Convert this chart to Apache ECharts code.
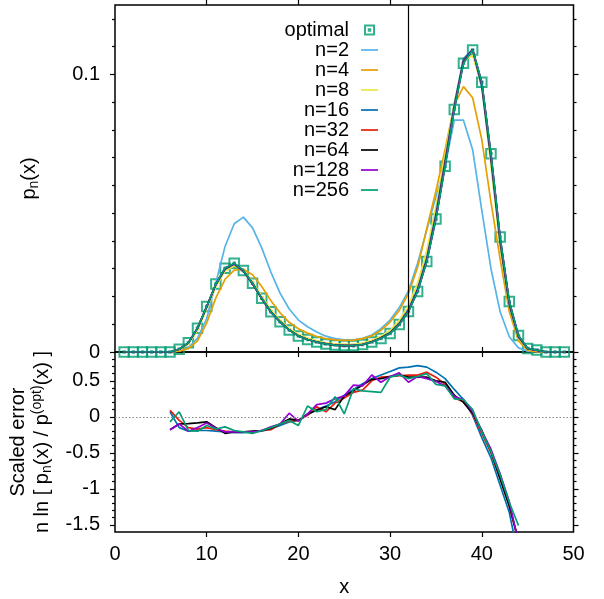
<!DOCTYPE html>
<html>
<head>
<meta charset="utf-8">
<script src="https://cdn.jsdelivr.net/npm/echarts@6/dist/echarts.min.js"></script>
<style>html,body{margin:0;padding:0;background:#fff}#c{width:604px;height:599px}</style>
</head>
<body>
<div id="c"></div>
<script>
// x positions of the top panel
var xTop = [1,2,3,4,5,6,7,8,9,10,11,12,13,14,15,16,17,18,19,20,21,22,23,24,25,26,27,28,29,30,31,32,33,34,35,36,37,38,39,40,41,42,43,44,45,46,47,48,49];
// x positions of the error panel
var xErr = [6,7,8,9,10,11,12,13,14,15,16,17,18,19,20,21,22,23,24,25,26,27,28,29,30,31,32,33,34,35,36,37,38,39,40,41,42,43,44];

var pOptimal = [0,0,0,0,0,0, 0.001,0.0033,0.0086,0.0164, 0.0245,0.0302,0.032,0.0294,0.0248, 0.0194,0.0145,0.0109,0.0079,0.0058, 0.0045,0.0036,0.0029,0.0025,0.0023, 0.0023,0.0027,0.0036,0.0049,0.0067, 0.0099,0.0146,0.0218,0.0326,0.0479, 0.0669,0.0874,0.104,0.1088,0.0972, 0.0714,0.0414,0.0182,0.0059,0.0013, 0.0007,0,0,0];
var pN2 = [0,0,0,0,0,0, 0.0003,0.0015,0.005,0.012, 0.025,0.038,0.0462,0.0486,0.0447, 0.0375,0.0288,0.0212,0.0155,0.0115, 0.0091,0.0072,0.0057,0.0048,0.0044, 0.0044,0.0049,0.0061,0.0084,0.0115, 0.016,0.022,0.032,0.044,0.056, 0.067,0.0835,0.0835,0.0729,0.051, 0.030,0.0145,0.0055,0.0015,0.0003, 0,0,0,0];
var pN4 = [0,0,0,0,0,0, 0.0003,0.0012,0.004,0.0105, 0.0195,0.0262,0.0295,0.0298,0.0278, 0.0236,0.0185,0.0141,0.0107,0.0084, 0.0068,0.0056,0.0048,0.0044,0.0042, 0.0043,0.0048,0.0058,0.0078,0.0108, 0.015,0.021,0.0305,0.0445,0.058, 0.073,0.089,0.0956,0.0916,0.0765, 0.054,0.0335,0.0145,0.004,0.0006, 0,0,0,0];
var pN8 = [0,0,0,0,0,0, 0.0008,0.0028,0.0078,0.0155, 0.0235,0.0292,0.031,0.0296,0.0253, 0.0201,0.0152,0.0115,0.0085,0.0064, 0.005,0.004,0.0033,0.0029,0.0028, 0.0028,0.0032,0.0042,0.0057,0.0078, 0.0114,0.0168,0.0248,0.0365,0.0525, 0.071,0.0895,0.1048,0.1068,0.0958, 0.067,0.038,0.0165,0.005,0.001, 0.0005,0,0,0];
var pN16 = [0,0,0,0,0,0, 0.001,0.0033,0.0085,0.0162, 0.0243,0.0298,0.0316,0.029,0.0245, 0.0192,0.0143,0.0108,0.0079,0.0058, 0.0045,0.0036,0.0029,0.0025,0.0023, 0.0024,0.0028,0.0037,0.0051,0.007, 0.0104,0.0153,0.0228,0.034,0.0498, 0.0691,0.0891,0.1056,0.109,0.0953, 0.069,0.0391,0.0167,0.0053,0.0011, 0.0006,0,0,0];
var pN32 = [0,0,0,0,0,0, 0.001,0.0033,0.0086,0.0163, 0.0244,0.03,0.0318,0.0292,0.0246, 0.0193,0.0144,0.0109,0.0079,0.0058, 0.0045,0.0036,0.0029,0.0025,0.0023, 0.0023,0.0027,0.0037,0.005,0.0068, 0.0101,0.0149,0.0222,0.0332,0.0487, 0.0679,0.0881,0.1047,0.1089,0.0965, 0.0703,0.0404,0.0176,0.0057,0.0012, 0.0006,0,0,0];
var pN64 = [0,0,0,0,0,0, 0.001,0.0033,0.0086,0.0164, 0.0244,0.0301,0.0319,0.0293,0.0247, 0.0193,0.0145,0.0109,0.0079,0.0058, 0.0045,0.0036,0.0029,0.0025,0.0023, 0.0023,0.0027,0.0036,0.005,0.0068, 0.01,0.0147,0.022,0.0329,0.0483, 0.0674,0.0876,0.1044,0.1089,0.0969, 0.0709,0.0409,0.0179,0.0058,0.0013, 0.0007,0,0,0];
var pN128 = [0,0,0,0,0,0, 0.001,0.0033,0.0086,0.0164, 0.0245,0.0302,0.0319,0.0294,0.0248, 0.0194,0.0145,0.0109,0.0079,0.0058, 0.0045,0.0036,0.0029,0.0025,0.0023, 0.0023,0.0027,0.0036,0.0049,0.0067, 0.0099,0.0146,0.0219,0.0327,0.0481, 0.0671,0.0876,0.1042,0.1089,0.0971, 0.0712,0.0412,0.0181,0.0059,0.0013, 0.0007,0,0,0];
var pN256 = [0,0,0,0,0,0, 0.001,0.0033,0.0086,0.0164, 0.0245,0.0302,0.032,0.0294,0.0248, 0.0194,0.0145,0.0109,0.0079,0.0058, 0.0045,0.0036,0.0029,0.0025,0.0023, 0.0023,0.0027,0.0036,0.0049,0.0067, 0.0099,0.0146,0.0218,0.0326,0.0479, 0.0669,0.0874,0.104,0.1088,0.0972, 0.0714,0.0414,0.0182,0.0059,0.0013, 0.0007,0,0,0];

var eN16 = [0.07,-0.15,-0.2,-0.19,-0.19,-0.2,-0.21,-0.22,-0.22,-0.21,-0.2,-0.17,-0.12,-0.07,-0.05,0.03,0.1,0.15,0.21,0.3,0.38,0.46,0.53,0.58,0.63,0.68,0.69,0.71,0.69,0.62,0.53,0.38,0.24,0.02,-0.29,-0.57,-0.95,-1.33,-1.95];
var eN32 = [0.09,-0.05,-0.15,-0.17,-0.15,-0.18,-0.2,-0.21,-0.21,-0.21,-0.19,-0.18,-0.1,-0.06,-0.05,0.02,0.14,0.07,0.19,0.26,0.34,0.37,0.5,0.55,0.56,0.57,0.58,0.58,0.62,0.55,0.45,0.26,0.21,0.04,-0.23,-0.5,-0.86,-1.24,-1.72];
var eN64 = [-0.18,-0.1,-0.095,-0.085,-0.07,-0.15,-0.23,-0.21,-0.21,-0.2,-0.19,-0.16,-0.1,-0.03,-0.05,0.04,0.09,0.14,0.1,0.29,0.36,0.44,0.52,0.53,0.56,0.58,0.55,0.55,0.55,0.5,0.48,0.3,0.2,0.05,-0.19,-0.48,-0.86,-1.24,-1.72];
var eN128 = [-0.18,-0.1,-0.2,-0.15,-0.085,-0.16,-0.21,-0.21,-0.21,-0.21,-0.19,-0.14,-0.1,0.05,-0.06,0.04,0.17,0.19,0.25,0.29,0.44,0.43,0.58,0.48,0.56,0.61,0.48,0.56,0.53,0.49,0.43,0.28,0.24,0.07,-0.2,-0.45,-0.79,-1.18,-1.75];
var eN256 = [-0.07,0.07,-0.19,-0.2,-0.12,-0.17,-0.14,-0.19,-0.21,-0.23,-0.19,-0.15,-0.1,-0.05,-0.12,0.15,0.07,0.1,0.28,0.04,0.39,0.36,0.35,0.34,0.55,0.58,0.53,0.56,0.6,0.45,0.43,0.25,0.24,0.1,-0.21,-0.48,-0.81,-1.19,-1.51];

// tick positions
var xTickVals = [10,20,30,40];
var topMajor = [0, 0.1];
var topMinor = [0.01,0.02,0.03,0.04,0.05,0.06,0.07,0.08,0.09,0.11,0.12];
var botMajor = [-1.5,-1,-0.5,0,0.5];
var botMinor = [-1.4,-1.3,-1.2,-1.1,-0.9,-0.8,-0.7,-0.6,-0.4,-0.3,-0.2,-0.1,0.1,0.2,0.3,0.4,0.6,0.7,0.8];

var FONT = 'Liberation Sans';
function pairs(xs, ys){ return xs.map(function(x,i){ return [x, ys[i]]; }); }

var names = ['n=2','n=4','n=8','n=16','n=32','n=64','n=128','n=256'];
var colors = ['#56b4e9','#e69f00','#f0e442','#0072b2','#e51e10','#000000','#9400d3','#009e73'];
var topData = [pN2,pN4,pN8,pN16,pN32,pN64,pN128,pN256];
var errNames = ['n=16','n=32','n=64','n=128','n=256'];
var errColors = ['#0072b2','#e51e10','#000000','#9400d3','#009e73'];
var errData = [eN16,eN32,eN64,eN128,eN256];

function xAx(grid, pos, labels){
  return {
    type:'value', gridIndex:grid, position:pos, min:0, max:50, interval:10,
    axisLine:{show:false, onZero:false},
    axisTick:{show:true, customValues:xTickVals, length:5, lineStyle:{color:'#000', width:1.2}},
    axisLabel:{show:labels, margin:12, fontFamily:FONT, fontSize:20, color:'#000'},
    splitLine:{show:false}
  };
}
function yAx(grid, pos, min, max, ticks, len, labels){
  return {
    type:'value', gridIndex:grid, position:pos, min:min, max:max,
    axisLine:{show:false, onZero:false},
    axisTick:{show:true, customValues:ticks, length:len, lineStyle:{color:'#000', width:1.2}},
    axisLabel:{show:labels, customValues:ticks, margin:15, fontFamily:FONT, fontSize:20, color:'#000'},
    splitLine:{show:false}
  };
}

var richBase = {
  m:{fontFamily:FONT, fontSize:20, lineHeight:24, color:'#000'},
  s:{fontFamily:FONT, fontSize:14, lineHeight:14, verticalAlign:'bottom', color:'#000'},
  u:{fontFamily:FONT, fontSize:14, lineHeight:14, verticalAlign:'top', color:'#000'}
};

var yAxes = [
  yAx(0,'left',0,0.125,topMajor,5,true),
  yAx(0,'left',0,0.125,topMinor,3,false),
  yAx(0,'right',0,0.125,topMajor,5,false),
  yAx(0,'right',0,0.125,topMinor,3,false),
  yAx(1,'left',-1.6,0.9,botMajor,5,true),
  yAx(1,'left',-1.6,0.9,botMinor,3,false),
  yAx(1,'right',-1.6,0.9,botMajor,5,false),
  yAx(1,'right',-1.6,0.9,botMinor,3,false)
];
yAxes[0].name = '{m|p}{s|n}{m|(x)}';
yAxes[0].nameLocation = 'middle';
yAxes[0].nameRotate = 90;
yAxes[0].nameGap = 74;
yAxes[0].nameTextStyle = {rich: richBase};
yAxes[4].name = '{m|Scaled error}\n{m|n ln [ p}{s|n}{m|(x) / p}{u|(opt)}{m|(x) ]}';
yAxes[4].nameLocation = 'middle';
yAxes[4].nameRotate = 90;
yAxes[4].nameGap = 47;
yAxes[4].nameTextStyle = {rich: richBase};

var xAxes = [xAx(0,'bottom',false), xAx(0,'top',false), xAx(1,'bottom',true), xAx(1,'top',false)];
xAxes[2].name = 'x';
xAxes[2].nameLocation = 'middle';
xAxes[2].nameGap = 45;
xAxes[2].nameTextStyle = {fontFamily:FONT, fontSize:20, color:'#000'};

var series = [{
  name:'optimal', type:'scatter', xAxisIndex:0, yAxisIndex:0,
  data: pairs(xTop, pOptimal),
  symbol:'path://M0 0H10V10H0Z M4.2 4.2H5.8V5.8H4.2Z', symbolKeepAspect:true, symbolSize:9.5,
  itemStyle:{color:'rgba(0,0,0,0)', borderColor:'#009e73', borderWidth:2},
  markLine:{silent:true, symbol:['none','none'], label:{show:false},
    lineStyle:{color:'#000', width:1.2, type:'solid'}, data:[{xAxis:32}]}
}];
names.forEach(function(n,i){
  series.push({name:n, type:'line', xAxisIndex:0, yAxisIndex:0, data:pairs(xTop, topData[i]),
    symbol:'none', lineStyle:{color:colors[i], width:1.7}, itemStyle:{color:colors[i]}});
});
errNames.forEach(function(n,i){
  var s = {name:n, type:'line', xAxisIndex:2, yAxisIndex:4, data:pairs(xErr, errData[i]),
    symbol:'none', lineStyle:{color:errColors[i], width:1.7}, itemStyle:{color:errColors[i]}};
  if (i === 0) {
    s.markLine = {silent:true, symbol:['none','none'], label:{show:false},
      lineStyle:{color:'#888', width:1, type:[1.5,2]}, data:[{yAxis:0}]};
  }
  series.push(s);
});

var legendData = [{name:'optimal'}].concat(names.map(function(n){
  return {name:n, icon:'path://M0 0H17V1.7H0Z'};
}));

var chart = echarts.init(document.getElementById('c'), null, {renderer:'canvas'});
chart.setOption({
  animation:false,
  backgroundColor:'#fff',
  grid:[
    {left:115, right:30.5, top:5, height:347, show:true, borderColor:'#000', borderWidth:1.5, containLabel:false},
    {left:115, right:30.5, top:352, height:180, show:true, borderColor:'#000', borderWidth:1.5, containLabel:false}
  ],
  xAxis:xAxes,
  yAxis:yAxes,
  legend:{
    data:legendData,
    orient:'vertical', align:'right', right:226, top:20, padding:0,
    itemGap:0, itemWidth:17, itemHeight:9, symbolKeepAspect:true,
    textStyle:{fontFamily:FONT, fontSize:20, color:'#000', width:70, lineHeight:20, padding:[0,7,0,0]},
    selectedMode:false
  },
  series:series
});
</script>
</body>
</html>
